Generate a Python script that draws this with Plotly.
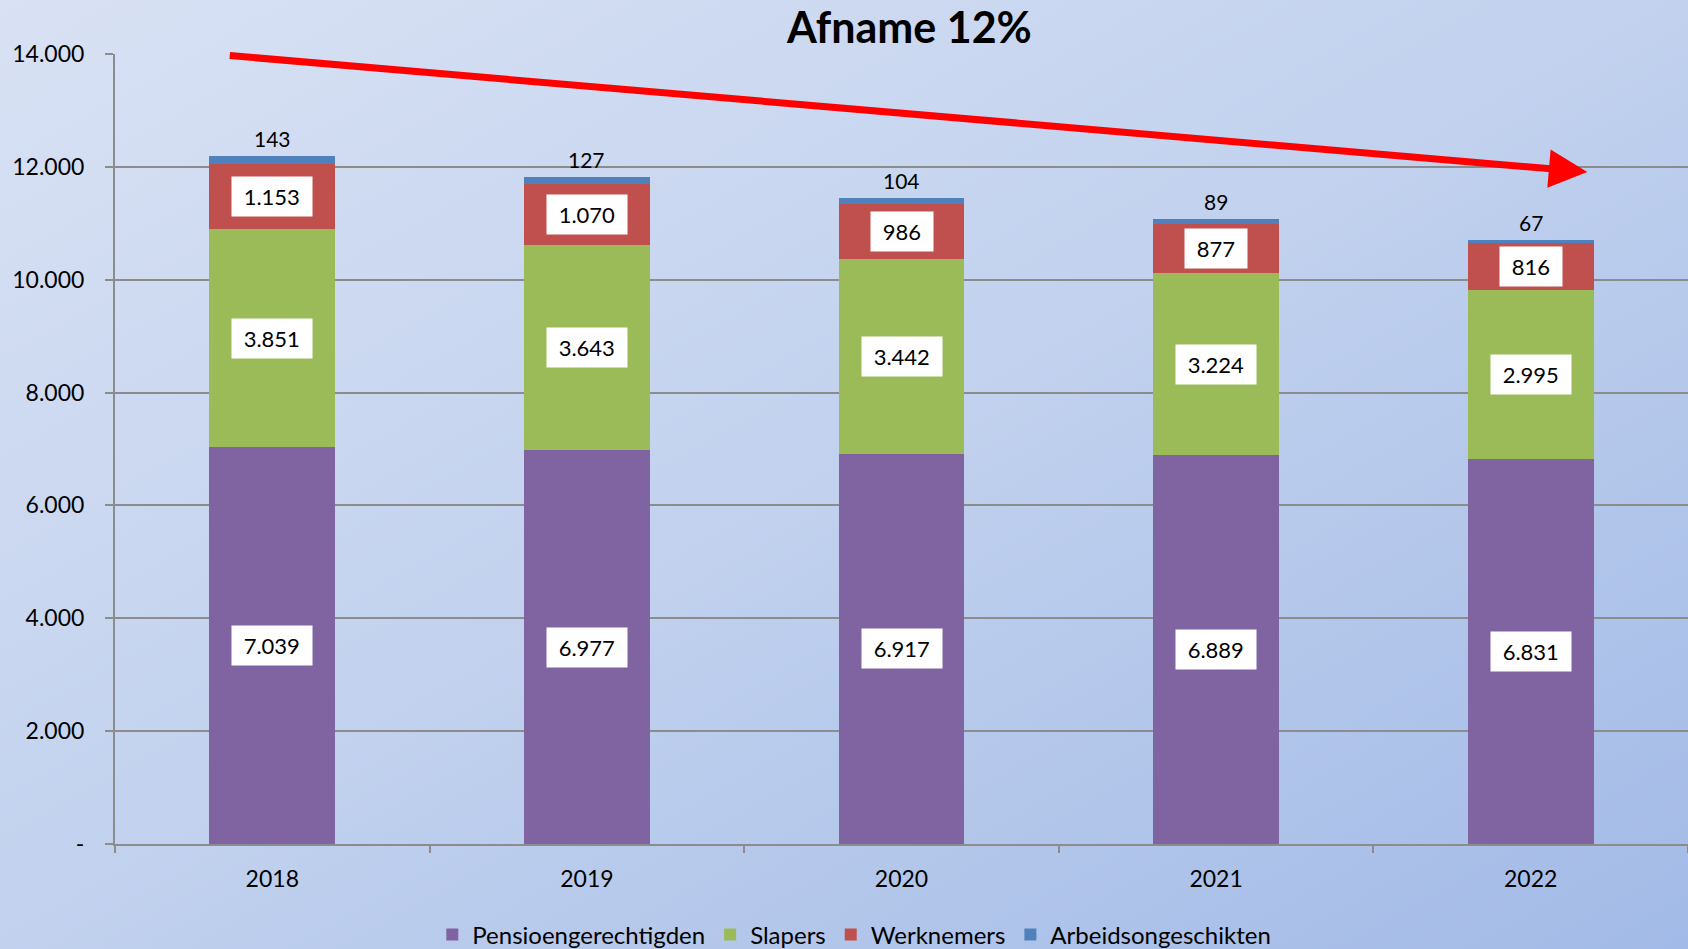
import base64
import plotly.graph_objects as go

# ---- data ----
years = ["2018", "2019", "2020", "2021", "2022"]
pensioengerechtigden = [7039, 6977, 6917, 6889, 6831]
slapers = [3851, 3643, 3442, 3224, 2995]
werknemers = [1153, 1070, 986, 877, 816]
arbeidsongeschikten = [143, 127, 104, 89, 67]

series_names = ["Pensioengerechtigden", "Slapers", "Werknemers", "Arbeidsongeschikten"]
series_values = [pensioengerechtigden, slapers, werknemers, arbeidsongeschikten]
series_colors = ["#8064A2", "#9BBB59", "#C0504D", "#4F81BD"]

y_tickvals = [0, 2000, 4000, 6000, 8000, 10000, 12000, 14000]
y_ticktext = ["-", "2.000", "4.000", "6.000", "8.000", "10.000", "12.000", "14.000"]
title_text = "Afname 12%"

# trend arrow (data coordinates: category index, value)
arrow_start = (-0.14, 13975)
arrow_end = (4.18, 11910)

FONT = "Lato"


def fmt(v):
    return f"{v:,}".replace(",", ".")


fig = go.Figure()
for name, vals, col in zip(series_names, series_values, series_colors):
    fig.add_trace(go.Bar(x=years, y=vals, name=name, marker=dict(color=col, line=dict(width=0)),
                         width=0.4, hoverinfo="skip"))

annotations = []
cum = [0] * len(years)
for s, vals in enumerate(series_values):
    for i, v in enumerate(vals):
        if s < len(series_values) - 1:
            annotations.append(dict(x=i, y=cum[i] + v / 2, xref="x", yref="y",
                                    text="&nbsp;" + fmt(v) + "&nbsp;", showarrow=False,
                                    bgcolor="white", borderpad=6,
                                    font=dict(family=FONT, size=22, color="black")))
        else:
            annotations.append(dict(x=i, y=cum[i] + v, xref="x", yref="y",
                                    text=fmt(v), showarrow=False, yanchor="bottom", yshift=3,
                                    font=dict(family=FONT, size=21, color="black")))
        cum[i] += v

annotations.append(dict(x=arrow_end[0], y=arrow_end[1], ax=arrow_start[0], ay=arrow_start[1],
                        xref="x", yref="y", axref="x", ayref="y", text="", showarrow=True,
                        arrowhead=2, arrowsize=1.1, arrowwidth=7, arrowcolor="#FF0000",
                        standoff=0, startstandoff=0))

svg = ('<svg xmlns="http://www.w3.org/2000/svg" width="1688" height="949" preserveAspectRatio="none">'
       '<defs><linearGradient id="g" x1="0" y1="0" x2="1" y2="1">'
       '<stop offset="0" stop-color="#D9E2F4"/><stop offset="0.5" stop-color="#C1D1EE"/>'
       '<stop offset="1" stop-color="#A2BAE7"/></linearGradient></defs>'
       '<rect x="0" y="0" width="1688" height="949" fill="url(#g)"/></svg>')
svg_uri = "data:image/svg+xml;base64," + base64.b64encode(svg.encode()).decode()

W, H = 1688, 949
ml, mr, mt, mb = 115, 0, 54, 105
pw, ph = W - ml - mr, H - mt - mb

fig.update_layout(
    width=W, height=H,
    margin=dict(l=ml, r=mr, t=mt, b=mb, autoexpand=False),
    barmode="stack",
    paper_bgcolor="#C5D4EE",
    plot_bgcolor="rgba(0,0,0,0)",
    font=dict(family=FONT, size=22, color="black"),
    title=dict(text="<b>" + title_text + "</b>", x=0.505, xref="paper", xanchor="center",
               y=1 - 28 / H, yref="container", yanchor="middle",
               font=dict(family=FONT, size=43, color="black")),
    legend=dict(orientation="h", x=0.47, xanchor="center", xref="paper",
                y=1 - 935 / H, yref="container", yanchor="middle",
                font=dict(family=FONT, size=24, color="black"), bgcolor="rgba(0,0,0,0)",
                traceorder="normal", itemclick=False, itemwidth=30),
    annotations=annotations,
    images=[dict(source=svg_uri, xref="paper", yref="paper", x=-ml / pw, y=1 + mt / ph,
                 sizex=W / pw, sizey=H / ph, xanchor="left", yanchor="top",
                 sizing="stretch", layer="below")],
    xaxis=dict(type="category", range=[-0.5, 4.5], tickson="boundaries", ticks="outside",
               ticklen=7, tickwidth=1.5, tickcolor="#8C8C8C", showline=True, linecolor="#8C8C8C",
               linewidth=2, showgrid=False, ticklabelstandoff=13,
               tickfont=dict(family=FONT, size=23, color="black")),
    yaxis=dict(range=[0, 14000], tickvals=y_tickvals, ticktext=y_ticktext, ticks="outside",
               ticklen=8, tickwidth=1.5, tickcolor="#8C8C8C", showline=True, linecolor="#8C8C8C",
               linewidth=2, showgrid=True, gridcolor="#8C8C8C", gridwidth=1.5, zeroline=False,
               ticklabelstandoff=16, tickfont=dict(family=FONT, size=23, color="black")),
)

fig.write_html("out.html", config={"displayModeBar": False},
               post_script="document.body.style.margin='0';")
